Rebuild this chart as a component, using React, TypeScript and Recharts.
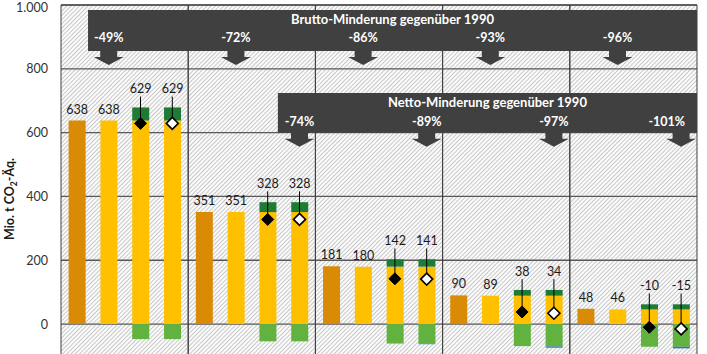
import React from 'react';
import {
  ComposedChart, Bar, Line, XAxis, YAxis, CartesianGrid, ReferenceArea,
  ReferenceDot, LabelList, ErrorBar,
} from 'recharts';

// ---- data (Mio. t CO2-Äq.) ----
const groupKeys = ['G1', 'G2', 'G3', 'G4', 'G5'];
const referenceValues = [638, 351, 181, 90, 48];      // bar 1 (orange)
const grossValues = [638, 351, 180, 89, 46];          // bar 2 (yellow) and base of bars 3/4
const sourcesA = [41, 31, 23, 18, 16];                // bar 3 dark green (positive)
const sinksA = [-47, -54, -61, -69, -71];             // bar 3 light green (negative)
const netA = [629, 328, 142, 38, -10];                // bar 3 net (black diamond)
const sourcesB = [41, 31, 23, 18, 16];                // bar 4 dark green
const sinksB = [-47, -54, -62, -70, -71];             // bar 4 light green
const storageB = [0, 0, -1, -4, -5];                  // bar 4 blue
const netB = [629, 328, 141, 34, -15];                // bar 4 net (white diamond)
const bruttoLabels = ['-49%', '-72%', '-86%', '-93%', '-96%'];
const nettoLabels = ['', '-74%', '-89%', '-97%', '-101%'];
const yTicks = [0, 200, 400, 600, 800, 1000];

const FONT = 'Lato, "Noto Sans", sans-serif';
const LEAD = 34;

const rows: any[] = [];
groupKeys.forEach((g, i) => {
  rows.push({ id: `${g}-1`, baseline: referenceValues[i] });
  rows.push({ id: `${g}-2`, gross: grossValues[i], grossLbl: grossValues[i] });
  rows.push({
    id: `${g}-3`, gross: grossValues[i], pos: sourcesA[i], neg: sinksA[i], net: netA[i], kind: 'filled',
    lead: [0, grossValues[i] + sourcesA[i] - netA[i] + LEAD],
  });
  rows.push({
    id: `${g}-4`, gross: grossValues[i], pos: sourcesB[i], neg: sinksB[i], ccs: storageB[i] || undefined,
    net: netB[i], kind: 'open',
    lead: [0, grossValues[i] + sourcesB[i] - netB[i] + LEAD],
  });
});
rows.forEach((r, k) => { r.slot = k + 0.5; });

const fmtTick = (v: number) => (v >= 1000 ? v.toLocaleString('de-DE') : String(v));

const Diamond = (p: any) => {
  const { cx, cy, payload, index } = p;
  if (cx == null || cy == null || payload == null || payload.net == null) return <g key={index} />;
  const s = 6;
  const filled = payload.kind === 'filled';
  return (
    <path
      key={index}
      d={`M${cx},${cy - s}L${cx + s},${cy}L${cx},${cy + s}L${cx - s},${cy}Z`}
      fill={filled ? '#000' : '#fff'}
      stroke="#000"
      strokeWidth={filled ? 1 : 1.6}
    />
  );
};

const makeArrow = (text: string, textGap: number, anchorEnd: boolean) => (p: any) => {
  const { cx, cy } = p;
  if (cx == null || cy == null) return <g />;
  const pts = [
    [cx - 8.5, cy - 1], [cx + 8.5, cy - 1], [cx + 8.5, cy + 6], [cx + 15, cy + 6],
    [cx, cy + 14], [cx - 15, cy + 6], [cx - 8.5, cy + 6],
  ].map((q) => q.join(',')).join(' ');
  return (
    <g>
      <polygon points={pts} fill="#404040" />
      <text
        x={anchorEnd ? cx + 4 : cx}
        y={cy - textGap}
        dy="0.35em"
        textAnchor={anchorEnd ? 'end' : 'middle'}
        fill="#fff"
        fontWeight={700}
        fontSize={12.5}
        fontFamily={FONT}
      >
        {text}
      </text>
    </g>
  );
};

const YLabel = () => (
  <text
    transform="translate(14,199) rotate(-90)"
    textAnchor="middle"
    fontWeight={700}
    fontSize={12.5}
    fontFamily={FONT}
    fill="#1a1a1a"
  >
    Mio. t CO<tspan fontSize={8.5} dy={3}>2</tspan><tspan dy={-3}>-Äq.</tspan>
  </text>
);

export default function App() {
  return (
    <div style={{ position: 'absolute', left: 0, top: 0, width: 707, height: 354, overflow: 'hidden', background: '#fff' }}>
      <svg width={0} height={0} style={{ position: 'absolute' }}>
        <defs>
          <pattern id="hatch" patternUnits="userSpaceOnUse" width="3" height="3" patternTransform="rotate(45)">
            <rect width="3" height="3" fill="#fbfbfb" />
            <line x1="0.5" y1="0" x2="0.5" y2="3" stroke="#c8c8c8" strokeWidth="1" />
          </pattern>
        </defs>
      </svg>
      <ComposedChart
        width={707}
        height={358}
        data={rows}
        margin={{ top: 5, right: 10, bottom: 2, left: 0 }}
        stackOffset="sign"
        barCategoryGap="24%"
      >
        <CartesianGrid vertical={false} fill="url(#hatch)" stroke="#595959" strokeWidth={1.3} />
        <XAxis dataKey="id" hide />
        <XAxis xAxisId="ann" dataKey="slot" type="number" domain={[0, 20]} allowDataOverflow hide />
        <YAxis
          domain={[-100, 1000]}
          ticks={yTicks}
          allowDataOverflow
          width={61}
          axisLine={false}
          tickLine={false}
          tickMargin={7}
          tickFormatter={fmtTick}
          tick={{ fontSize: 12.5, fill: '#333', fontFamily: FONT }}
          label={{ content: () => <YLabel /> }}
        />
        {groupKeys.map((g) => (
          <ReferenceArea key={g} x1={`${g}-1`} x2={`${g}-4`} fill="none" fillOpacity={0} stroke="#404040" strokeWidth={1} />
        ))}
        <ReferenceArea
          xAxisId="ann" x1={0.85} x2={20} y1={856} y2={984} ifOverflow="visible"
          fill="#404040" fillOpacity={1} stroke="none"
          label={{ value: 'Brutto-Minderung gegenüber 1990', position: 'insideTop', offset: 5, fill: '#fff', fontWeight: 700, fontSize: 13, fontFamily: FONT }}
        />
        <ReferenceArea
          xAxisId="ann" x1={6.82} x2={20} y1={600} y2={724} ifOverflow="visible"
          fill="#404040" fillOpacity={1} stroke="none"
          label={{ value: 'Netto-Minderung gegenüber 1990', position: 'insideTop', offset: 5, fill: '#fff', fontWeight: 700, fontSize: 13, fontFamily: FONT }}
        />
        {bruttoLabels.map((t, i) => (
          <ReferenceDot key={`b${i}`} xAxisId="ann" x={4 * i + 1.5} y={856} r={0} shape={makeArrow(t, 13, false)} />
        ))}
        {nettoLabels.map((t, i) => (t ? (
          <ReferenceDot key={`n${i}`} xAxisId="ann" x={4 * i + 3.5} y={600} r={0} shape={makeArrow(t, 11, i === nettoLabels.length - 1)} />
        ) : null))}
        <Bar dataKey="baseline" stackId="s" fill="#D98B06" isAnimationActive={false}>
          <LabelList dataKey="baseline" position="top" offset={7} fill="#1a1a1a" fontSize={12.5} fontFamily={FONT} />
        </Bar>
        <Bar dataKey="gross" stackId="s" fill="#FFC000" isAnimationActive={false}>
          <LabelList dataKey="grossLbl" position="top" offset={7} fill="#1a1a1a" fontSize={12.5} fontFamily={FONT} />
        </Bar>
        <Bar dataKey="pos" stackId="s" fill="#1E7B35" isAnimationActive={false}>
          <LabelList dataKey="net" position="top" offset={14} fill="#1a1a1a" fontSize={12.5} fontFamily={FONT} />
        </Bar>
        <Bar dataKey="neg" stackId="s" fill="#62B23F" isAnimationActive={false} />
        <Bar dataKey="ccs" stackId="s" fill="#2E75B6" isAnimationActive={false} />
        <Line dataKey="net" stroke="none" isAnimationActive={false} dot={Diamond} activeDot={false} legendType="none" />
        <Line dataKey="net" stroke="none" isAnimationActive={false} dot={false} activeDot={false} legendType="none">
          <ErrorBar dataKey="lead" width={0} stroke="#000" strokeWidth={1} direction="y" />
        </Line>
      </ComposedChart>
    </div>
  );
}
